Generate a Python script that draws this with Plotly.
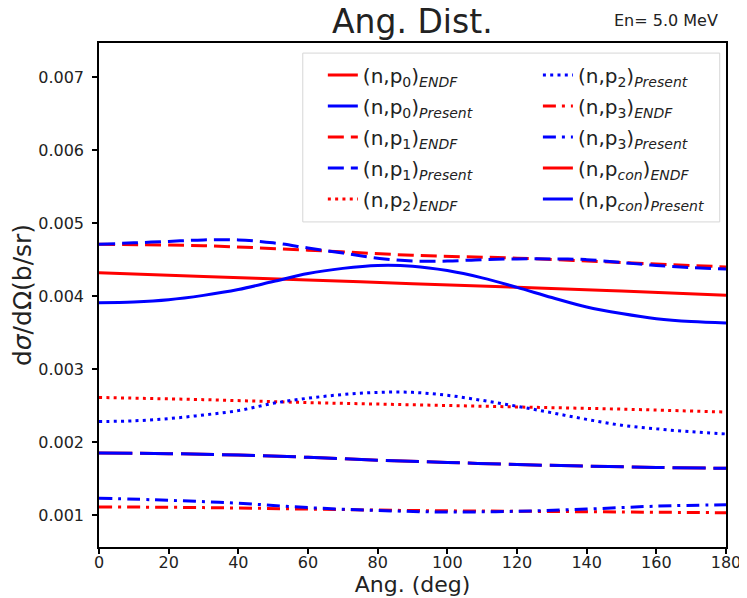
import plotly.graph_objects as go

# ---- data ----
ang_fine = [0, 10, 20, 30, 40, 50, 60, 70, 80, 90, 100, 110, 120, 130, 140, 150, 160, 170, 180]
ang_30 = [0, 30, 60, 90, 120, 150, 180]
ang_20 = [0, 20, 40, 60, 80, 100, 120, 140, 160, 180]

p0_endf = [0.00432, 0.00427, 0.00422, 0.00417, 0.00412, 0.00407, 0.00401]
p0_pres = [0.00391, 0.00392, 0.00395, 0.00401, 0.00409, 0.00420, 0.00431, 0.00438, 0.00442, 0.00441,
           0.00435, 0.00425, 0.00412, 0.00398, 0.00385, 0.00376, 0.00369, 0.00365, 0.00363]
p1_endf = [0.00471, 0.00469, 0.00463, 0.00456, 0.00452, 0.00446, 0.00440]
p1_pres = [0.00471, 0.00473, 0.00475, 0.00477, 0.00477, 0.00473, 0.00466, 0.00459, 0.00452, 0.00448,
           0.00448, 0.00450, 0.00451, 0.00451, 0.00450, 0.00446, 0.00442, 0.00439, 0.00437]
p2_endf = [0.00261, 0.00258, 0.00254, 0.00251, 0.00248, 0.00245, 0.00241]
p2_pres = [0.00228, 0.00229, 0.00232, 0.00237, 0.00243, 0.00253, 0.00260, 0.00265, 0.00268, 0.00268,
           0.00264, 0.00257, 0.00249, 0.00240, 0.00231, 0.00223, 0.00218, 0.00214, 0.00211]
p3_endf = [0.00111, 0.00110, 0.00108, 0.00106, 0.00105, 0.00104, 0.00103]
p3_pres = [0.00123, 0.00120, 0.00116, 0.00110, 0.00106, 0.00104, 0.00105, 0.00108, 0.00112, 0.00114]
pcon_endf = [0.00185, 0.00184, 0.00182, 0.00179, 0.00175, 0.00172, 0.00169, 0.00167, 0.00165, 0.00164]
pcon_pres = [0.00185, 0.00184, 0.00182, 0.00179, 0.00175, 0.00172, 0.00169, 0.00167, 0.00165, 0.00164]

y_ticks = [0.001, 0.002, 0.003, 0.004, 0.005, 0.006, 0.007]
x_ticks = [0, 20, 40, 60, 80, 100, 120, 140, 160, 180]

RED = "#ff0000"
BLUE = "#0000ff"
FONT = "DejaVu Sans"
TXT = "#222222"

SOLID = "solid"
DASHED = "16px,7px"
DOTTED = "3px,4.3px"
DASHDOT = "13px,6px,3px,6px"
LONGDASH = "33px,8px"

series = [
    ("(n,p<sub>0</sub>)<sub><i>ENDF</i></sub>", ang_30, p0_endf, RED, SOLID, "legend"),
    ("(n,p<sub>0</sub>)<sub><i>Present</i></sub>", ang_fine, p0_pres, BLUE, SOLID, "legend"),
    ("(n,p<sub>1</sub>)<sub><i>ENDF</i></sub>", ang_30, p1_endf, RED, DASHED, "legend"),
    ("(n,p<sub>1</sub>)<sub><i>Present</i></sub>", ang_fine, p1_pres, BLUE, DASHED, "legend"),
    ("(n,p<sub>2</sub>)<sub><i>ENDF</i></sub>", ang_30, p2_endf, RED, DOTTED, "legend"),
    ("(n,p<sub>2</sub>)<sub><i>Present</i></sub>", ang_fine, p2_pres, BLUE, DOTTED, "legend2"),
    ("(n,p<sub>3</sub>)<sub><i>ENDF</i></sub>", ang_30, p3_endf, RED, DASHDOT, "legend2"),
    ("(n,p<sub>3</sub>)<sub><i>Present</i></sub>", ang_20, p3_pres, BLUE, DASHDOT, "legend2"),
    ("(n,p<sub><i>con</i></sub>)<sub><i>ENDF</i></sub>", ang_20, pcon_endf, RED, LONGDASH, "legend2"),
    ("(n,p<sub><i>con</i></sub>)<sub><i>Present</i></sub>", ang_20, pcon_pres, BLUE, LONGDASH, "legend2"),
]

fig = go.Figure()
for i, (name, xs, ys, col, dash, leg) in enumerate(series):
    fig.add_trace(go.Scatter(
        x=xs, y=ys, mode="lines", name=name, legend=leg, legendgroup=f"g{i}",
        line=dict(color=col, width=3, dash=dash, shape="spline", smoothing=1.0),
    ))

axis_common = dict(
    showline=True, linecolor="black", linewidth=1.5, mirror=True,
    ticks="outside", ticklen=5, tickwidth=1.5, tickcolor="black",
    showgrid=False, zeroline=False, automargin=False,
    tickfont=dict(family=FONT, size=16, color=TXT),
)

leg_common = dict(
    bgcolor="rgba(0,0,0,0)", borderwidth=0, yanchor="top", xanchor="left",
    font=dict(family=FONT, size=20, color=TXT), tracegroupgap=2,
)

# the page body adds an 8px offset; margins compensate so the plot area sits at 99..726 x 43..547
fig.update_layout(
    width=747, height=598,
    margin=dict(l=91, r=29, t=35, b=59, autoexpand=False),
    paper_bgcolor="white", plot_bgcolor="white",
    font=dict(family=FONT, color=TXT),
    xaxis=dict(range=[0, 180], tickvals=x_ticks, ticklabelstandoff=-5,
               title=dict(text="Ang. (deg)", font=dict(family=FONT, size=22, color=TXT), standoff=0),
               **axis_common),
    yaxis=dict(range=[0.00056, 0.00747], tickvals=y_ticks, tickformat=".3f", ticklabelstandoff=5,
               title=dict(text="d<i>σ</i>/dΩ(b/sr)", font=dict(family=FONT, size=25, color=TXT), standoff=5),
               **axis_common),
    legend=dict(x=0.357, y=0.975, **leg_common),
    legend2=dict(x=0.70, y=0.975, **leg_common),
    shapes=[dict(type="rect", xref="paper", yref="paper", x0=0.325, x1=0.99, y0=0.645, y1=0.98,
                 line=dict(color="#d6d6d6", width=1), fillcolor="rgba(255,255,255,0.8)", layer="below")],
    annotations=[
        dict(text="Ang. Dist.", xref="paper", yref="paper", x=0.5, y=1.043, xanchor="center", yanchor="middle",
             showarrow=False, font=dict(family=FONT, size=33, color=TXT)),
        dict(text="En= 5.0 MeV", xref="paper", yref="paper", x=0.99, y=1.045, xanchor="right", yanchor="middle",
             showarrow=False, font=dict(family=FONT, size=16, color=TXT)),
    ],
)

fig.write_html("out.html")
